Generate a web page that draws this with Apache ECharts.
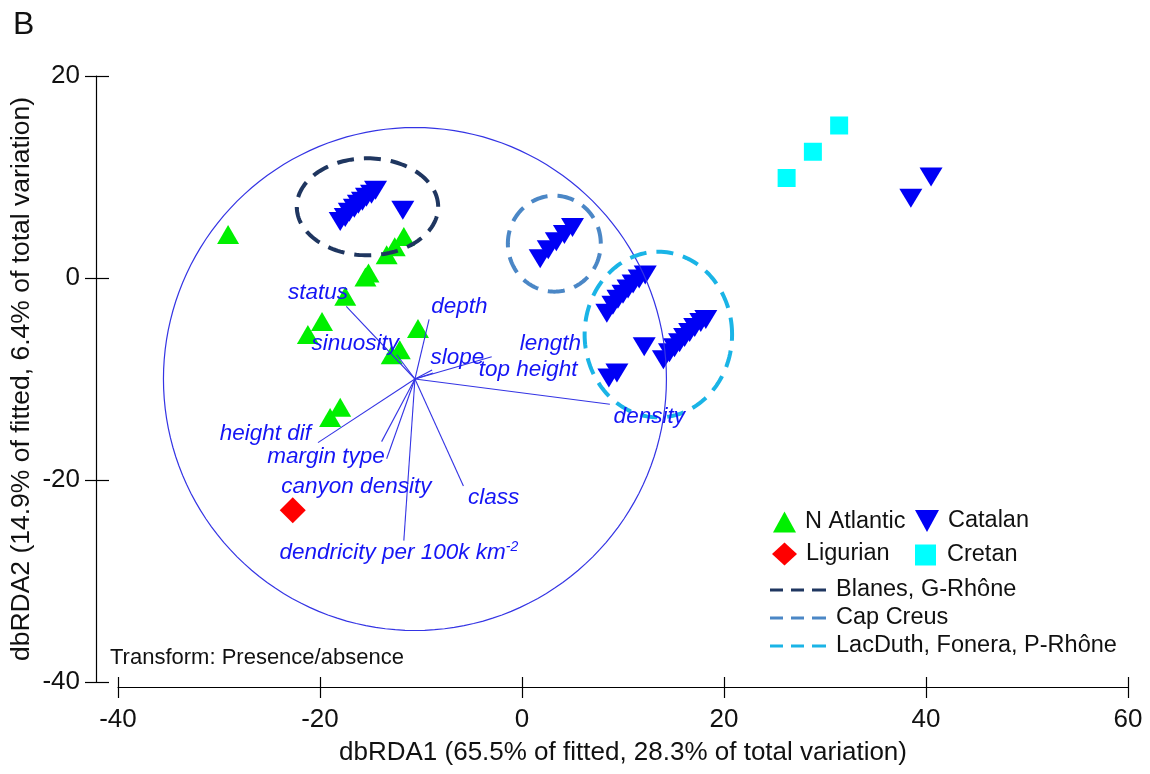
<!DOCTYPE html>
<html>
<head>
<meta charset="utf-8">
<title>dbRDA ordination</title>
<script src="https://cdn.jsdelivr.net/npm/echarts@6/dist/echarts.min.js"></script>
<style>
  html, body { margin: 0; padding: 0; background: #ffffff; }
  #chart { width: 1150px; height: 774px; }
</style>
</head>
<body>
<div id="chart"></div>
<script>
// ---- Axis ticks ----
const xTicks = [-40, -20, 0, 20, 40, 60];
const yTicks = [-40, -20, 0, 20];

// ---- Samples by region (dbRDA1, dbRDA2) ----
const nAtlantic = [
  [-29.1, 4.3], [-11.7, 4.1], [-12.6, 3.1], [-13.4, 2.3], [-15.2, 0.5], [-15.5, 0.1],
  [-17.5, -1.8], [-19.8, -4.3], [-21.2, -5.6], [-10.3, -5.0], [-12.1, -7.1], [-12.9, -7.6],
  [-18.0, -12.8], [-19.0, -13.8]
];
const catalan = [
  // Blanes, G-Rhône
  [-18.0, 5.6], [-17.5, 6.0], [-17.1, 6.5], [-16.6, 6.9], [-16.2, 7.3], [-15.8, 7.6],
  [-15.4, 8.0], [-14.9, 8.3], [-14.5, 8.7], [-11.8, 6.7],
  // Cap Creus
  [1.8, 1.9], [2.6, 2.8], [3.4, 3.6], [4.2, 4.3], [5.0, 5.0],
  // LacDuth, Fonera, P-Rhône
  [8.4, -3.5], [9.0, -2.7], [9.5, -2.1], [10.0, -1.6], [10.5, -1.1], [11.0, -0.6],
  [11.6, -0.1], [12.2, 0.3],
  [14.0, -8.1], [14.6, -7.4], [15.1, -6.9], [15.6, -6.4], [16.1, -5.9], [16.6, -5.4],
  [17.1, -4.9], [17.7, -4.4], [18.2, -4.1],
  [12.1, -6.8], [9.4, -9.4], [8.6, -9.9],
  // outliers
  [38.5, 7.9], [40.5, 10.0]
];
const ligurian = [[-22.7, -23.0]];
const cretan = [[26.2, 9.9], [28.8, 12.5], [31.4, 15.1]];

// ---- Canyon groups: centre x, centre y, radius x, radius y ----
const groupNames = ['Blanes, G-Rhône', 'Cap Creus', 'LacDuth, Fonera, P-Rhône'];
const groupEllipses = [
  [-15.3, 7.05, 7.0, 4.8],
  [3.2, 3.4, 4.6, 4.75],
  [13.5, -5.6, 7.3, 8.2]
];

// ---- Predictor vectors ----
const vectorOrigin = [-10.6, -10.0];
const circleRadius = 24.9;
const vectorNames = [
  'status', 'sinuosity', 'depth', 'slope', 'length', 'top height', 'density',
  'height dif', 'margin type', 'canyon density', 'class', 'dendricity per 100k km-2'
];
const vectorEnds = [
  [-17.4, -2.8], [-12.4, -7.6], [-9.2, -4.1], [-8.9, -9.1], [-8.8, -9.4], [-3.0, -7.8],
  [8.7, -12.5], [-20.2, -16.3], [-13.9, -16.2], [-13.4, -17.9], [-5.8, -20.6], [-11.7, -26.0]
];
const vectorLabelAt = [
  [-20.2, -1.5], [-16.5, -6.5], [-6.2, -2.8], [-6.4, -7.9], [2.8, -6.5], [0.6, -9.1],
  [12.6, -13.7], [-25.4, -15.4], [-19.4, -17.7], [-16.4, -20.7], [-2.8, -21.8], [-12.2, -27.2]
];

// ---- Styling ----
const FONT = 'Liberation Sans, Arial, sans-serif';
const groupColors = ['#1f3660', '#4b87c6', '#1ab4e6'];
const vectorColor = '#3434e4';
const labelColor = '#1515f5';
const AXIS_FONT = 26;

const chart = echarts.init(document.getElementById('chart'), null, { renderer: 'canvas' });

function ellipsePoints(api, cx, cy, rx, ry) {
  const pts = [];
  const n = 160;
  for (let i = 0; i <= n; i++) {
    const t = (i / n) * Math.PI * 2;
    pts.push(api.coord([cx + rx * Math.cos(t), cy + ry * Math.sin(t)]));
  }
  return pts;
}

const ellipseSeries = groupNames.map((name, k) => ({
  name: name,
  type: 'custom',
  coordinateSystem: 'cartesian2d',
  z: 5,
  silent: true,
  itemStyle: { color: groupColors[k] },
  data: [groupEllipses[k]],
  encode: { x: 0, y: 1 },
  renderItem: function (params, api) {
    return {
      type: 'polyline',
      shape: { points: ellipsePoints(api, api.value(0), api.value(1), api.value(2), api.value(3)) },
      style: { fill: null, stroke: groupColors[k], lineWidth: 4, lineDash: [17, 10] }
    };
  }
}));

function legendText(padLeft) {
  return { fontFamily: FONT, fontSize: 23.5, color: '#111', padding: [0, 0, 0, padLeft] };
}
const tickStyle = { color: '#000', width: 1.2 };

const option = {
  backgroundColor: '#ffffff',
  animation: false,
  grid: { left: 118, right: 22, top: 76, bottom: 92, containLabel: false, outerBoundsMode: 'none' },
  xAxis: [
    {
      type: 'value', min: -40, max: 60, interval: 20, offset: 5, position: 'bottom',
      splitLine: { show: false },
      axisLine: { show: true, onZero: false, lineStyle: tickStyle },
      name: 'dbRDA1 (65.5% of fitted, 28.3% of total variation)',
      nameLocation: 'middle', nameGap: 53, nameMoveOverlap: false,
      nameTextStyle: { fontFamily: FONT, fontSize: AXIS_FONT, color: '#111' },
      axisTick: { show: true, length: 11, lineStyle: tickStyle },
      axisLabel: {
        fontFamily: FONT, fontSize: AXIS_FONT, color: '#111', margin: 20,
        formatter: v => xTicks.includes(v) ? String(v) : ''
      }
    },
    {
      type: 'value', min: -40, max: 60, interval: 20, offset: 5, position: 'bottom',
      splitLine: { show: false },
      axisLine: { show: false, onZero: false },
      axisTick: { show: true, inside: true, length: 10, lineStyle: tickStyle },
      axisLabel: { show: false }
    }
  ],
  yAxis: [
    {
      type: 'value', min: -40, max: 20, interval: 20, offset: 22, position: 'left',
      splitLine: { show: false },
      axisLine: { show: true, onZero: false, lineStyle: tickStyle },
      name: 'dbRDA2 (14.9% of fitted, 6.4% of total variation)',
      nameLocation: 'middle', nameGap: 61, nameRotate: 90, nameMoveOverlap: false,
      nameTextStyle: { fontFamily: FONT, fontSize: 26.5, color: '#111' },
      axisTick: { show: true, length: 11, lineStyle: tickStyle },
      axisLabel: {
        fontFamily: FONT, fontSize: AXIS_FONT, color: '#111', margin: 16,
        formatter: v => yTicks.includes(v) ? String(v) : ''
      }
    },
    {
      type: 'value', min: -40, max: 20, interval: 20, offset: 22, position: 'left',
      splitLine: { show: false },
      axisLine: { show: false, onZero: false },
      axisTick: { show: true, inside: true, length: 13, lineStyle: tickStyle },
      axisLabel: { show: false }
    }
  ],
  legend: [
    { data: ['N Atlantic'], left: 773, top: 510, padding: 0, itemWidth: 23, itemHeight: 21, textStyle: legendText(4), selectedMode: false },
    {
      data: [{ name: 'Catalan', icon: 'path://M0,0L24,0L12,22Z' }],
      left: 915, top: 509, padding: 0, itemWidth: 24, itemHeight: 22, textStyle: legendText(4), selectedMode: false
    },
    { data: ['Ligurian'], left: 772, top: 542, padding: 0, itemWidth: 25, itemHeight: 23, textStyle: legendText(4), selectedMode: false },
    { data: ['Cretan'], left: 915, top: 543, padding: 0, itemWidth: 21, itemHeight: 21, textStyle: legendText(6), selectedMode: false },
    {
      data: groupNames.map(n => ({
        name: n,
        icon: 'path://M0,0H13V3H0Z M21,0H34V3H21Z M42,0H56V3H42Z'
      })),
      orient: 'vertical', left: 770, top: 578, padding: 0, itemWidth: 56, itemHeight: 3, itemGap: 4,
      textStyle: legendText(5), selectedMode: false
    }
  ],
  graphic: [
    { type: 'text', left: 13, top: 9, style: { text: 'B', font: '32px ' + FONT, fill: '#111' } },
    { type: 'text', left: 110, top: 647, style: { text: 'Transform: Presence/absence', font: '22px ' + FONT, fill: '#111' } }
  ],
  series: [
    // Correlation circle
    {
      name: 'circle', type: 'custom', coordinateSystem: 'cartesian2d', z: 4, silent: true,
      data: [[vectorOrigin[0], vectorOrigin[1], circleRadius, circleRadius]],
      encode: { x: 0, y: 1 },
      renderItem: function (params, api) {
        return {
          type: 'polyline',
          shape: { points: ellipsePoints(api, api.value(0), api.value(1), api.value(2), api.value(3)) },
          style: { fill: null, stroke: vectorColor, lineWidth: 1.2 }
        };
      }
    },
    // Vector lines
    {
      name: 'vectors', type: 'custom', coordinateSystem: 'cartesian2d', z: 4, silent: true,
      data: vectorEnds.map(e => [vectorOrigin[0], vectorOrigin[1], e[0], e[1]]),
      encode: { x: [0, 2], y: [1, 3] },
      renderItem: function (params, api) {
        const p0 = api.coord([api.value(0), api.value(1)]);
        const p1 = api.coord([api.value(2), api.value(3)]);
        return {
          type: 'line',
          shape: { x1: p0[0], y1: p0[1], x2: p1[0], y2: p1[1] },
          style: { stroke: vectorColor, lineWidth: 1.1 }
        };
      }
    },
    // Vector labels
    {
      name: 'vector labels', type: 'custom', coordinateSystem: 'cartesian2d', z: 6, silent: true,
      data: vectorLabelAt.map((p, i) => [p[0], p[1], i]),
      encode: { x: 0, y: 1 },
      renderItem: function (params, api) {
        const p = api.coord([api.value(0), api.value(1)]);
        const name = vectorNames[api.value(2)];
        let text;
        if (name.endsWith('-2')) text = '{a|' + name.slice(0, -2) + '}{s|-2}';
        else text = '{a|' + name + '}';
        return {
          type: 'text',
          x: p[0], y: p[1],
          style: {
            text: text, align: 'center', verticalAlign: 'middle',
            rich: {
              a: { fontFamily: FONT, fontStyle: 'italic', fontSize: 22.5, fill: labelColor, color: labelColor },
              s: { fontFamily: FONT, fontStyle: 'italic', fontSize: 14, fill: labelColor, color: labelColor, verticalAlign: 'top', padding: [0, 0, 12, 0] }
            }
          }
        };
      }
    },
    {
      name: 'N Atlantic', type: 'scatter', data: nAtlantic, z: 3,
      symbol: 'triangle', symbolSize: [22, 19], itemStyle: { color: '#00f000', opacity: 1 }
    },
    {
      name: 'Catalan', type: 'scatter', data: catalan, z: 3,
      symbol: 'triangle', symbolRotate: 180, symbolSize: [23, 19], itemStyle: { color: '#0000f5', opacity: 1 }
    },
    {
      name: 'Ligurian', type: 'scatter', data: ligurian, z: 3,
      symbol: 'diamond', symbolSize: [26, 26], itemStyle: { color: '#ff0000', opacity: 1 }
    },
    {
      name: 'Cretan', type: 'scatter', data: cretan, z: 3,
      symbol: 'rect', symbolSize: 18, itemStyle: { color: '#00ffff', opacity: 1 }
    }
  ].concat(ellipseSeries)
};

chart.setOption(option);
</script>
</body>
</html>
